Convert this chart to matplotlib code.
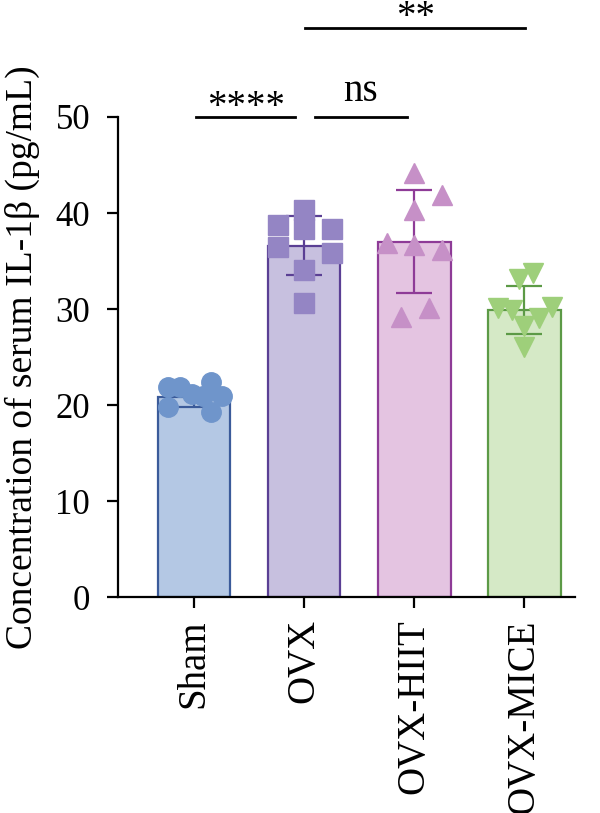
"""Serum IL-1beta bar chart with individual points"""

import numpy as np
from matplotlib import pyplot as plt

groups = ["Sham", "OVX", "OVX-HIIT", "OVX-MICE"]
means = [20.8, 36.6, 37.0, 29.9]
sds = [1.0, 3.1, 5.35, 2.5]

sham_vals = [21.9, 21.9, 22.4, 20.9, 19.8, 19.3, 21.1, 20.9]
ovx_vals = [40.3, 38.75, 38.3, 38.3, 36.5, 35.8, 34.1, 30.6]
hiit_vals = [44.2, 41.9, 40.3, 36.9, 36.7, 36.1, 30.1, 29.2]
mice_vals = [33.75, 33.1, 30.1, 29.9, 30.2, 29.1, 28.2, 26.0]
points = [sham_vals, ovx_vals, hiit_vals, mice_vals]

# horizontal scatter of the dots inside each bar
jitter = [
    [-0.24, -0.13, 0.15, 0.25, -0.24, 0.15, -0.02, 0.08],
    [0.0, -0.24, 0.25, 0.0, -0.24, 0.25, 0.0, 0.0],
    [0.0, 0.25, 0.0, -0.25, 0.0, 0.25, 0.13, -0.12],
    [0.08, -0.05, -0.24, -0.11, 0.25, 0.13, 0.0, 0.0],
]

fills = ["#b4c8e4", "#c7c0df", "#e4c4e1", "#d5e9c6"]
edges = ["#3b5b9a", "#5a3f94", "#8e3b97", "#5c9a46"]
dots = ["#6f95cb", "#9485c4", "#c690c7", "#9ecf7a"]
markers = ["o", "s", "^", "v"]

plt.rcParams["font.family"] = ["Liberation Serif", "DejaVu Serif"]

fig = plt.figure(figsize=(6, 8.13), dpi=100)
ax = fig.add_axes([118 / 600, 216 / 813, 457 / 600, 480 / 813])

x = np.arange(len(groups))
ax.bar(x, means, width=0.66, color=fills, edgecolor=edges, linewidth=1.6, zorder=1)
for i in range(len(groups)):
    ax.errorbar(x[i], means[i], yerr=sds[i], color=edges[i], capsize=13,
                elinewidth=1.6, capthick=1.6, zorder=2)
    ax.plot(x[i] + np.array(jitter[i]), points[i], linestyle="none",
            marker=markers[i], markersize=14, color=dots[i], zorder=3)

ax.set_xlim(-0.69, 3.46)
ax.set_ylim(0, 50)
ax.set_yticks([0, 10, 20, 30, 40, 50])
ax.set_xticks(x)
ax.set_xticklabels(groups, rotation=90)
ax.tick_params(axis="both", width=1.6, length=8)
ax.tick_params(axis="y", labelsize=25, pad=12)
ax.tick_params(axis="x", labelsize=28, pad=8)
ax.spines["top"].set_visible(False)
ax.spines["right"].set_visible(False)
ax.spines["left"].set_linewidth(1.6)
ax.spines["bottom"].set_linewidth(1.6)

ax.set_ylabel("Concentration of serum IL-1β (pg/mL)", fontsize=27)
ax.yaxis.set_label_coords(-0.17, 0.5)

# significance brackets: x from, x to, line height, label, label baseline
brackets = [
    (0.02, 0.92, 50.0, "****", 50.0),
    (1.1, 1.93, 50.0, "ns", 51.7),
    (1.01, 3.01, 59.3, "**", 59.4),
]
for x0, x1, yv, label, ty in brackets:
    ax.plot([x0, x1], [yv, yv], color="black", linewidth=2, clip_on=False)
    ax.text((x0 + x1) / 2, ty, label, ha="center", va="baseline",
            fontsize=28, clip_on=False)

fig.savefig("out.png", dpi=100)
